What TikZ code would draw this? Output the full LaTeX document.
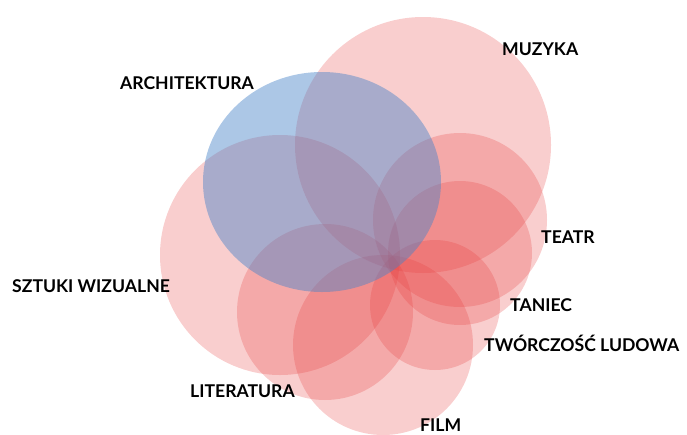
\documentclass[tikz,border=0pt]{standalone}
\usepackage{fontspec}
\setmainfont{Lato}

\definecolor{petalred}{RGB}{230,60,60}
\definecolor{archblue}{RGB}{70,130,200}

\begin{document}
\begin{tikzpicture}[
    x=1pt, y=-1pt,
    petal/.style = {fill=petalred, fill opacity=0.25},
    arch/.style  = {fill=archblue, fill opacity=0.45},
    cat/.style   = {font=\fontsize{17.6}{20}\selectfont\bfseries, inner sep=0pt, anchor=base west}
]
\useasboundingbox (0,0) rectangle (687,434);

% Red petals round the common point
\fill[petal] (423,145) circle (128);  % muzyka
\fill[petal] (280,255) circle (120);  % sztuki wizualne
\fill[petal] (460,220) circle (87);   % teatr
\fill[petal] (460,253) circle (72);   % taniec
\fill[petal] (435,305) circle (65);   % tworczosc ludowa
\fill[petal] (383,345) circle (90);   % film
\fill[petal] (325,312) circle (88);   % literatura

% Blue petal on top
\fill[arch] (322,182) ellipse [x radius=119, y radius=110];

% Category names
\node[cat] (muz)  at (502,55)  {MUZYKA};
\node[cat] (arch) at (120,89)  {ARCHITEKTURA};
\node[cat] (tea)  at (541,243) {TEATR};
\node[cat] (szt)  at (12,292)  {SZTUKI WIZUALNE};
\node[cat] (tan)  at (510,311) {TANIEC};
\node[cat] (tw)   at (484,351) {TWÓRCZOŚĆ LUDOWA};
\node[cat] (lit)  at (190,397) {LITERATURA};
\node[cat] (film) at (420,431) {FILM};

\end{tikzpicture}
\end{document}
